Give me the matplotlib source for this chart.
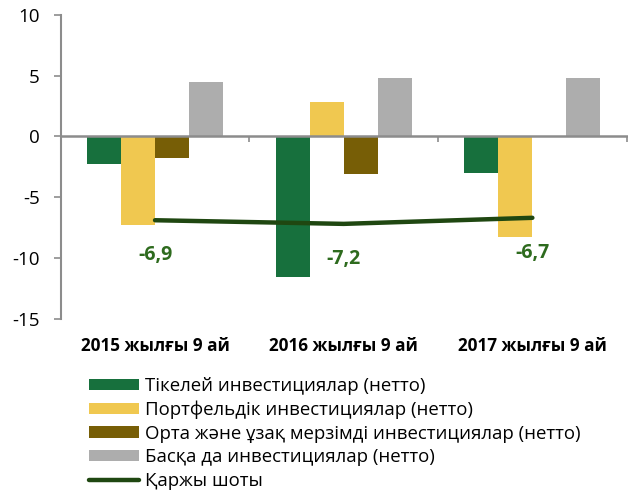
import matplotlib
matplotlib.use("Agg")
import matplotlib.pyplot as plt
from matplotlib.patches import Patch
from matplotlib.lines import Line2D
from matplotlib.transforms import blended_transform_factory
import numpy as np

plt.rcParams['font.family'] = ['Open Sans', 'DejaVu Sans']

categories = ["2015 жылғы 9 ай", "2016 жылғы 9 ай", "2017 жылғы 9 ай"]
series_names = [
    "Тікелей инвестициялар (нетто)",
    "Портфельдік инвестициялар (нетто)",
    "Орта және ұзақ мерзімді инвестициялар (нетто)",
    "Басқа да инвестициялар (нетто)",
]
direct = [-2.3, -11.6, -3.0]
portfolio = [-7.3, 2.8, -8.3]
medium_long = [-1.8, -3.1, 0.0]
other = [4.5, 4.8, 4.8]
line_name = "Қаржы шоты"
financial_account = [-6.9, -7.2, -6.7]
line_labels = ["-6,9", "-7,2", "-6,7"]
yticks = [10, 5, 0, -5, -10, -15]

colors = ["#17703D", "#F0C850", "#775E06", "#ADADAD"]
line_color = "#1F4711"
label_color = "#2E6B1E"
axis_color = "#8C8C8C"

fig = plt.figure(figsize=(6.28, 4.90), dpi=100)
ax = fig.add_axes([60.7/628, 1-318.6/490, (626.7-60.7)/628, (318.6-15)/490])

x = np.arange(len(categories))
bw = 0.18
allseries = [direct, portfolio, medium_long, other]
for i, (vals, c) in enumerate(zip(allseries, colors)):
    ax.bar(x + (i - 1.5) * bw, vals, width=bw, color=c, zorder=2)

ax.plot(x, financial_account, color=line_color, lw=3.2, solid_capstyle='round', zorder=3)
for xi, yi, lab in zip(x, financial_account, line_labels):
    ax.annotate(lab, (xi, yi), xytext=(0, -25), textcoords='offset points',
                ha='center', va='center', color=label_color, fontsize=14,
                fontweight='bold', zorder=4)

ax.set_xlim(-0.5, 2.5)
ax.set_ylim(-15, 10)
ax.set_yticks(yticks)
ax.set_yticklabels([str(v) for v in yticks], fontsize=13.5)
ax.tick_params(axis='y', direction='out', length=5, width=1.2, color=axis_color, pad=10)

ax.spines['top'].set_visible(False)
ax.spines['right'].set_visible(False)
ax.spines['left'].set_color(axis_color)
ax.spines['left'].set_linewidth(1.5)
ax.spines['bottom'].set_position(('data', 0))
ax.spines['bottom'].set_color(axis_color)
ax.spines['bottom'].set_linewidth(1.8)
ax.set_xticks([0.5, 1.5, 2.5])
ax.set_xticklabels([])
ax.tick_params(axis='x', direction='out', length=4, width=1.2, color=axis_color)

trans = blended_transform_factory(ax.transData, ax.transAxes)
for xi, cat in zip(x, categories):
    ax.text(xi, -0.09, cat, transform=trans, ha='center', va='center',
            fontsize=12.3, fontweight='bold', color='black')

handles = [Patch(facecolor=c, edgecolor='none') for c in colors]
handles.append(Line2D([0], [0], color=line_color, lw=3.2, solid_capstyle='round'))
labels = series_names + [line_name]
fig.legend(handles, labels, loc='upper left', bbox_to_anchor=(89/628, 1-377/490),
           frameon=False, fontsize=13.4, borderpad=0, borderaxespad=0,
           handlelength=2.7, handleheight=0.55, handletextpad=0.3, labelspacing=0.3)

fig.savefig("out.png", dpi=100)
